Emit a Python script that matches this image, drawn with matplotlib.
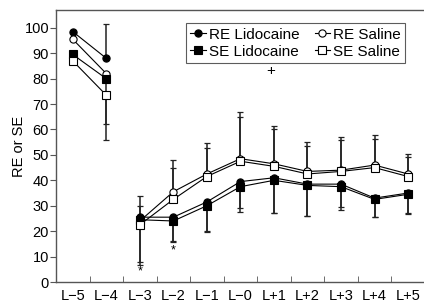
import matplotlib
matplotlib.use("Agg")
import matplotlib.pyplot as plt
import numpy as np
from matplotlib.lines import Line2D

plt.rcParams['font.family'] = ['Liberation Sans', 'DejaVu Sans']

categories = ["L\u22125", "L\u22124", "L\u22123", "L\u22122", "L\u22121", "L\u22120",
              "L+1", "L+2", "L+3", "L+4", "L+5"]

re_lido = [98.5, 88, 25.5, 25.5, 31.5, 39.5, 41, 38.5, 38.5, 33, 35]
se_lido = [89.5, 80, 24.5, 24, 30, 37.5, 40, 38, 37.5, 32.5, 34.5]
re_sal = [95.5, 82, 24, 35.5, 42.5, 48.5, 46.5, 43.5, 44, 46, 42.5]
se_sal = [87, 73.5, 22.5, 32.5, 41.5, 47.5, 45.5, 42.5, 43.5, 45, 41.5]

# error bars (lower, upper), only the visible parts
re_lido_err = ([0, 0, 17.7, 9.2, 11.3, 10.5, 14, 12.5, 9, 7.3, 8.2],
               [0, 13.5, 0, 0, 0, 0, 0, 0, 0, 0, 0])
se_lido_err = ([0, 18, 18, 8.3, 10.5, 10, 13, 12, 9, 7, 7.5],
               [0, 0, 0, 0, 0, 0, 0, 0, 0, 0, 0])
re_sal_err = ([0, 0, 0, 0, 0, 0, 0, 0, 0, 0, 0],
              [0, 0, 10, 12.5, 12.2, 18.5, 15, 11.5, 13, 11.8, 8])
se_sal_err = ([0, 17.5, 0, 0, 0, 0, 0, 0, 0, 0, 0],
              [0, 0, 7.5, 12.4, 11.2, 17.5, 14.7, 11, 12.4, 11.3, 7.5])

# line is broken between L-4 and L-3
segments = [(0, 2), (2, 11)]

# significance marks: (category index, y, symbol, size)
sig_marks = [(2, 4, "*", 9), (3, 12.5, "*", 9), (5.9, 83, "+", 11)]

x = np.arange(len(categories))

fig = plt.figure(figsize=(4.24, 3.03), dpi=100)
ax = fig.add_axes([0.132, 0.0693, 0.870, 0.8977])

series = [
    (re_lido, re_lido_err, "o", "black", "RE Lidocaine"),
    (re_sal, re_sal_err, "o", "white", "RE Saline"),
    (se_lido, se_lido_err, "s", "black", "SE Lidocaine"),
    (se_sal, se_sal_err, "s", "white", "SE Saline"),
]
handles = {}
for vals, err, mk, fc, lab in series:
    vals = np.array(vals)
    ax.errorbar(x, vals, yerr=np.array(err), fmt="none", ecolor="#222222",
                elinewidth=1.1, capsize=2.2, capthick=0.9, zorder=2)
    for a, b in segments:
        ax.plot(x[a:b], vals[a:b], "-", color="black", lw=0.8, marker=mk,
                ms=5.2, mfc=fc, mec="black", mew=0.8, zorder=3)
    handles[lab] = Line2D([], [], color="black", lw=0.8, marker=mk, ms=5.2,
                          mfc=fc, mec="black", mew=0.8)

for xi, yi, s, fs in sig_marks:
    ax.text(xi, yi, s, ha="center", va="center", fontsize=fs)

ax.set_xlim(-0.5, 10.5)
ax.set_ylim(0, 107)
ax.set_xticks(x)
ax.set_xticklabels(categories, fontsize=10.5)
ax.set_xticks(np.arange(-0.5, 10.6, 1), minor=True)
ax.tick_params(axis="x", which="major", length=0, pad=5)
ax.tick_params(axis="x", which="minor", direction="in", length=4, color="#555555")
ax.set_yticks(np.arange(0, 101, 10))
ax.tick_params(axis="y", direction="out", length=4, labelsize=10.5, pad=1, color="#555555")
ax.set_ylabel("RE or SE", fontsize=10.5, labelpad=-1.5)

ax.spines["right"].set_visible(False)
for s in ["top", "bottom", "left"]:
    ax.spines[s].set_color("#555555")
    ax.spines[s].set_linewidth(1)

order = ["RE Lidocaine", "SE Lidocaine", "RE Saline", "SE Saline"]
leg = ax.legend([handles[k] for k in order], order, ncol=2, loc="upper left",
                bbox_to_anchor=(0.352, 0.952), fontsize=11, frameon=True,
                fancybox=False, edgecolor="#333333", handlelength=1.0,
                handletextpad=0.2, columnspacing=1.0, borderpad=0.3,
                labelspacing=0.2, borderaxespad=0)
leg.get_frame().set_linewidth(0.8)

fig.savefig("out.png", dpi=100)
